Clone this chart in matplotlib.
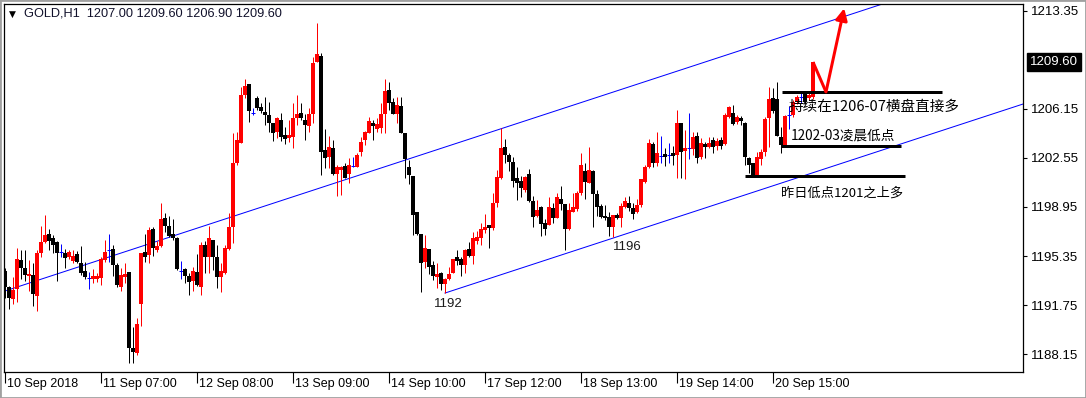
import matplotlib
matplotlib.use("Agg")
import matplotlib.pyplot as plt
from matplotlib.transforms import blended_transform_factory
from matplotlib.patches import Rectangle

# ---------------- data (GOLD H1) ----------------
opens = [1194.27, 1193.05, 1192.17, 1192.90, 1195.05, 1194.44, 1193.90, 1193.95, 1192.40, 1195.59,
         1196.38, 1196.96, 1196.65, 1196.40, 1195.62, 1195.55, 1195.30, 1194.98, 1195.50, 1194.81,
         1194.27, 1193.71, 1193.64, 1193.68, 1193.71, 1195.05, 1195.79, 1195.86, 1194.69, 1193.10,
         1193.82, 1194.15, 1188.56, 1188.20, 1191.82, 1195.62, 1195.43, 1197.33, 1195.79, 1196.08,
         1198.12, 1197.57, 1196.96, 1196.69, 1194.27, 1194.37, 1193.88, 1193.54, 1194.15, 1193.10,
         1196.18, 1195.26, 1196.52, 1195.30, 1193.82, 1194.08, 1195.84, 1197.45, 1202.16, 1203.67,
         1207.18, 1207.99, 1205.88, 1206.93, 1206.32, 1205.95, 1205.71, 1205.10, 1204.48, 1205.34,
         1204.24, 1204.04, 1204.11, 1205.47, 1205.83, 1205.34, 1204.90, 1205.78, 1209.62, 1210.04,
         1203.14, 1202.64, 1203.31, 1201.35, 1201.67, 1201.96, 1201.37, 1201.96, 1201.88, 1203.01,
         1203.87, 1204.41, 1205.10, 1204.66, 1204.73, 1205.78, 1207.54, 1206.69, 1205.78, 1206.37,
         1204.36, 1201.91, 1201.23, 1198.56, 1196.94, 1194.93, 1195.86, 1194.69, 1193.82, 1194.12,
         1193.30, 1193.66, 1194.12, 1195.25, 1195.10, 1194.69, 1195.86, 1195.35, 1196.45, 1196.65,
         1197.26, 1197.62, 1197.43, 1199.22, 1201.06, 1203.33, 1202.77, 1202.28, 1201.06, 1200.86,
         1200.20, 1201.37, 1199.41, 1198.29, 1198.98, 1197.75, 1197.62, 1198.88, 1198.17, 1199.52,
         1199.15, 1197.36, 1198.61, 1198.83, 1200.01, 1201.62, 1200.73, 1201.62, 1199.90, 1199.02,
         1198.29, 1198.24, 1197.50, 1198.36, 1198.12, 1198.97, 1199.27, 1198.88, 1198.56, 1199.12,
         1200.81, 1201.87, 1203.58, 1202.21, 1202.72, 1202.84, 1202.77, 1202.89, 1202.77, 1205.10,
         1203.04, 1203.28, 1203.23, 1204.16, 1202.63, 1203.58, 1203.38, 1203.87, 1203.43, 1203.87,
         1203.58, 1205.56, 1205.88, 1205.19, 1205.47, 1205.14, 1202.53, 1202.16, 1201.30, 1202.45,
         1203.01, 1205.47, 1206.93, 1206.86, 1204.11, 1203.50, 1205.71, 1205.71, 1206.69, 1207.05,
         1207.26, 1206.93, 1207.00]
highs = [1194.47, 1193.15, 1193.82, 1195.91, 1195.79, 1195.79, 1195.05, 1194.86, 1195.79, 1197.55,
         1198.36, 1197.31, 1196.89, 1196.45, 1196.23, 1195.84, 1195.79, 1195.79, 1195.74, 1196.10,
         1194.93, 1194.20, 1194.39, 1194.07, 1195.30, 1196.52, 1196.96, 1196.16, 1194.81, 1194.49,
         1194.81, 1194.20, 1190.15, 1190.77, 1195.60, 1196.96, 1197.50, 1197.50, 1196.45, 1199.22,
         1198.49, 1198.31, 1198.05, 1196.77, 1194.98, 1194.49, 1194.07, 1194.52, 1195.50, 1196.40,
         1196.45, 1197.55, 1196.55, 1196.16, 1194.83, 1196.16, 1198.49, 1204.41, 1204.48, 1207.79,
         1208.35, 1208.00, 1206.20, 1207.10, 1206.59, 1207.01, 1206.69, 1205.15, 1205.58, 1205.84,
         1204.85, 1205.34, 1206.57, 1207.18, 1206.57, 1205.78, 1206.20, 1209.99, 1212.49, 1210.28,
         1204.68, 1204.16, 1203.87, 1202.03, 1201.93, 1202.16, 1202.53, 1202.64, 1202.92, 1204.12,
         1204.55, 1205.58, 1205.34, 1205.47, 1206.61, 1208.33, 1208.15, 1206.98, 1207.01, 1207.01,
         1204.38, 1202.40, 1201.25, 1198.58, 1196.96, 1196.89, 1195.90, 1194.98, 1194.81, 1194.20,
         1193.76, 1194.56, 1195.12, 1195.79, 1195.30, 1195.84, 1196.40, 1197.13, 1197.18, 1197.75,
         1198.41, 1197.64, 1199.96, 1201.67, 1204.73, 1203.92, 1202.89, 1202.65, 1201.87, 1201.23,
         1201.23, 1201.72, 1199.76, 1199.46, 1199.03, 1198.05, 1199.66, 1199.27, 1199.96, 1200.49,
         1199.17, 1199.22, 1199.96, 1200.13, 1202.94, 1202.16, 1203.38, 1201.65, 1200.20, 1199.17,
         1199.10, 1198.61, 1198.38, 1198.49, 1199.27, 1199.66, 1199.76, 1199.22, 1199.52, 1201.00,
         1202.03, 1203.92, 1203.75, 1204.48, 1204.16, 1203.26, 1203.67, 1203.43, 1206.08, 1205.14,
         1204.63, 1205.88, 1204.48, 1204.48, 1204.00, 1203.75, 1204.12, 1204.12, 1203.99, 1204.12,
         1205.88, 1206.37, 1206.44, 1205.71, 1205.64, 1205.20, 1202.60, 1202.21, 1203.01, 1203.18,
         1205.58, 1207.74, 1207.67, 1208.15, 1204.85, 1205.71, 1206.37, 1206.81, 1207.18, 1207.35,
         1207.47, 1207.40, 1209.60]
lows = [1192.26, 1191.43, 1191.80, 1191.99, 1193.66, 1193.51, 1192.77, 1191.67, 1191.33, 1195.30,
        1196.28, 1195.79, 1195.55, 1193.54, 1195.26, 1194.49, 1195.10, 1194.81, 1194.81, 1193.95,
        1193.64, 1192.90, 1193.39, 1193.45, 1193.22, 1194.93, 1194.93, 1193.88, 1193.05, 1192.77,
        1193.39, 1187.51, 1187.51, 1188.07, 1190.20, 1194.93, 1194.81, 1195.35, 1195.67, 1196.03,
        1197.13, 1196.77, 1196.52, 1194.32, 1193.66, 1193.34, 1192.48, 1192.80, 1193.15, 1192.48,
        1194.12, 1194.12, 1194.32, 1192.97, 1192.73, 1194.05, 1195.79, 1196.28, 1202.03, 1203.67,
        1206.93, 1205.22, 1205.71, 1206.08, 1205.85, 1204.97, 1204.48, 1203.82, 1204.04, 1203.82,
        1203.58, 1203.75, 1203.26, 1204.97, 1205.34, 1203.87, 1204.48, 1205.10, 1209.60, 1201.30,
        1201.79, 1201.79, 1201.30, 1199.73, 1199.85, 1201.05, 1200.69, 1201.88, 1201.86, 1202.70,
        1203.50, 1204.38, 1203.87, 1204.48, 1204.41, 1204.41, 1206.08, 1205.78, 1205.10, 1204.38,
        1201.06, 1200.61, 1196.89, 1196.90, 1192.73, 1194.49, 1194.02, 1193.58, 1192.97, 1192.85,
        1192.61, 1193.61, 1194.08, 1194.69, 1193.88, 1194.12, 1195.26, 1194.76, 1196.23, 1196.16,
        1197.02, 1195.91, 1197.26, 1198.92, 1201.00, 1202.16, 1201.62, 1200.44, 1199.50, 1199.70,
        1200.08, 1199.33, 1197.50, 1198.24, 1196.82, 1196.89, 1197.60, 1197.75, 1198.12, 1198.73,
        1195.79, 1197.23, 1198.61, 1198.66, 1199.83, 1199.52, 1200.69, 1197.50, 1198.29, 1198.12,
        1198.00, 1196.82, 1196.77, 1198.07, 1197.50, 1198.90, 1198.69, 1198.05, 1198.49, 1198.98,
        1200.69, 1201.79, 1201.91, 1201.96, 1202.16, 1201.96, 1202.21, 1202.03, 1201.06, 1201.06,
        1200.99, 1202.45, 1202.77, 1202.21, 1202.45, 1202.58, 1203.26, 1202.94, 1203.14, 1203.18,
        1203.50, 1205.51, 1204.97, 1205.05, 1204.97, 1202.03, 1201.42, 1201.23, 1201.23, 1202.03,
        1202.70, 1203.38, 1205.84, 1204.16, 1202.94, 1203.46, 1204.66, 1205.58, 1206.51, 1206.57,
        1206.55, 1206.80, 1206.90]
closes = [1193.07, 1192.24, 1192.85, 1195.13, 1194.49, 1193.95, 1194.00, 1192.53, 1195.59, 1196.38,
          1196.87, 1196.47, 1196.18, 1195.55, 1195.62, 1195.23, 1195.67, 1195.35, 1194.93, 1194.12,
          1193.82, 1193.71, 1193.88, 1193.88, 1195.13, 1195.67, 1195.79, 1194.69, 1193.22, 1193.95,
          1194.02, 1188.56, 1188.31, 1190.35, 1195.55, 1195.30, 1197.26, 1195.91, 1196.08, 1198.07,
          1197.57, 1196.84, 1196.69, 1194.37, 1194.27, 1193.90, 1193.42, 1194.27, 1193.22, 1196.16,
          1195.30, 1196.65, 1195.30, 1193.82, 1194.27, 1195.91, 1197.45, 1202.16, 1203.87, 1207.18,
          1207.84, 1206.02, 1205.88, 1206.20, 1206.02, 1205.71, 1205.10, 1204.41, 1205.51, 1204.11,
          1203.92, 1204.24, 1205.51, 1205.78, 1205.47, 1204.97, 1205.78, 1209.55, 1210.19, 1203.01,
          1202.57, 1203.38, 1201.37, 1201.91, 1201.91, 1201.10, 1202.03, 1201.96, 1202.77, 1203.72,
          1204.48, 1205.27, 1204.90, 1205.03, 1205.78, 1207.47, 1206.61, 1205.78, 1206.44, 1204.41,
          1202.45, 1201.30, 1198.36, 1196.96, 1194.81, 1195.91, 1194.52, 1193.88, 1194.02, 1193.27,
          1193.64, 1194.00, 1195.10, 1195.00, 1194.69, 1195.79, 1195.35, 1196.69, 1196.77, 1197.31,
          1197.50, 1197.43, 1199.22, 1201.18, 1203.31, 1202.77, 1202.28, 1200.86, 1200.73, 1200.32,
          1201.18, 1199.41, 1198.24, 1198.73, 1197.70, 1197.31, 1198.98, 1198.12, 1199.66, 1199.15,
          1197.31, 1198.73, 1198.98, 1200.01, 1202.03, 1200.81, 1201.67, 1199.90, 1198.95, 1198.24,
          1198.12, 1197.50, 1198.36, 1198.12, 1199.02, 1199.39, 1198.86, 1198.42, 1199.12, 1200.99,
          1201.87, 1203.63, 1202.16, 1202.89, 1202.72, 1202.60, 1202.77, 1202.70, 1205.14, 1203.01,
          1203.28, 1203.28, 1204.11, 1202.53, 1203.67, 1203.33, 1203.67, 1203.38, 1203.80, 1203.43,
          1205.71, 1206.32, 1205.05, 1205.54, 1205.29, 1202.60, 1202.03, 1201.30, 1202.60, 1203.01,
          1205.39, 1206.86, 1206.02, 1204.16, 1203.50, 1205.63, 1205.71, 1206.69, 1207.05, 1207.05,
          1206.69, 1207.18, 1209.60]

date_labels = ["10 Sep 2018", "11 Sep 07:00", "12 Sep 08:00", "13 Sep 09:00", "14 Sep 10:00",
               "17 Sep 12:00", "18 Sep 13:00", "19 Sep 14:00", "20 Sep 15:00"]
bars_per_label = 24
price_ticks = [1213.35, 1206.15, 1202.55, 1198.95, 1195.35, 1191.75, 1188.15]
last_price = 1209.60
header_text = "GOLD,H1  1207.00 1209.60 1206.90 1209.60"

# channel lines: (bar, price) anchors
upper_channel = [(0, 1192.78), (200, 1212.00)]
lower_channel = [(110, 1192.63), (250, 1206.08)]
# black horizontal levels: (price, bar_start, bar_end)
levels = [(1207.40, 194.2, 234.2), (1203.43, 194.0, 224.0), (1201.19, 185.0, 225.0)]
notes = [(196.0, 1206.30, "持续在1206-07横盘直接多", 10.5),
         (196.5, 1204.17, "1202-03凌晨低点", 9.8),
         (194.0, 1199.94, "昨日低点1201之上多", 9.5)]
low_labels = [(110.75, 1191.82, "1192"), (155.5, 1196.01, "1196")]
arrow_path = [(202.0, 1209.60), (205.25, 1207.40), (209.8, 1213.55)]

# ---------------- figure ----------------
W, H = 1086, 398
fig = plt.figure(figsize=(W / 100, H / 100), dpi=100)
fig.patch.set_facecolor("white")
L, R, T, B = 4, 1023, 4, 372
ax = fig.add_axes([L / W, 1 - B / H, (R - L) / W, (B - T) / H])
ax.set_xlim(-0.25, 254.5)
ax.set_ylim(1186.83, 1213.86)
for s in ax.spines.values():
    s.set_linewidth(0.9)
    s.set_color("black")

px = 0.72  # one pixel in points
RED, BLACK, BLUE = "#ff0000", "#000000", "#0000ff"
for i, (o, h, l, c) in enumerate(zip(opens, highs, lows, closes)):
    if c > o:
        col = RED
    elif c < o:
        col = BLACK
    else:
        col = BLUE
    ax.vlines(i, l, h, colors=col, lw=px, zorder=3)
    if c == o:
        ax.hlines(o, i - 0.45, i + 0.45, colors=col, lw=px, zorder=3)
    else:
        bot = min(o, c)
        hgt = max(abs(c - o), 0.075)
        ax.bar(i, hgt, bottom=bot, width=0.78, color=col, linewidth=0, zorder=3)

# channel
(x0, y0), (x1, y1) = upper_channel
sl = (y1 - y0) / (x1 - x0)
ax.plot([-5, 260], [y0 + sl * (-5 - x0), y0 + sl * (260 - x0)], color=BLUE, lw=px, zorder=2)
(x0, y0), (x1, y1) = lower_channel
sl = (y1 - y0) / (x1 - x0)
ax.plot([x0, 260], [y0, y0 + sl * (260 - x0)], color=BLUE, lw=px, zorder=2)

# levels
for p, a, b in levels:
    ax.hlines(p, a, b, colors="black", lw=3 * px, zorder=4)

cjk = ["Noto Sans CJK SC", "DejaVu Sans"]
for x, y, t, fs in notes:
    ax.text(x, y, t, fontsize=fs, family=cjk, ha="left", va="center", color="black", zorder=5)
for x, y, t in low_labels:
    ax.text(x, y, t, fontsize=9.5, family="Liberation Sans", ha="center", va="center", color="#1a1a1a")

# red arrow
(ax0, ay0), (ax1, ay1), (ax2, ay2) = arrow_path
ax.plot([ax0, ax1], [ay0, ay1], color=RED, lw=3 * px, solid_capstyle="butt", zorder=6)
ax.annotate("", xy=(ax2, ay2), xytext=(ax1, ay1),
            arrowprops=dict(arrowstyle="-|>,head_length=0.7,head_width=0.35", color=RED, lw=3 * px,
                            shrinkA=0, shrinkB=0), zorder=6, annotation_clip=False)

# axes ticks
ax.yaxis.tick_right()
ax.set_yticks(price_ticks)
ax.set_yticklabels([f"{p:.2f}" for p in price_ticks])
ax.tick_params(axis="y", direction="out", length=3, width=0.8, pad=3, labelsize=9.5)
for lab in ax.get_yticklabels():
    lab.set_family("Liberation Sans")
tick_pos = [k * bars_per_label for k in range(len(date_labels))]
ax.set_xticks(tick_pos)
ax.set_xticklabels([])
ax.tick_params(axis="x", direction="out", length=8, width=0.8)
xt = ax.get_xaxis_transform()
for k, t in zip(tick_pos, date_labels):
    ax.text(k + 0.4, -(384 - B) / (B - T), t, transform=xt, fontsize=9, family="Liberation Sans",
            ha="left", va="center", color="black")

# current price box
bt = blended_transform_factory(ax.transAxes, ax.transData)
ax.text(1 + 7 / (R - L), last_price, f"{last_price:.2f}", transform=bt, fontsize=9.5,
        family="Liberation Sans", color="white", ha="left", va="center",
        bbox=dict(boxstyle="square,pad=0.2", facecolor="black", edgecolor="black"))

# header
fig.text(9 / W, 1 - 14 / H, "▼", fontsize=6.5, ha="left", va="center", color="black")
fig.text(24 / W, 1 - 14 / H, header_text, fontsize=9.2, family="Liberation Sans",
         ha="left", va="center", color="#10102a")

# window border
fig.add_artist(Rectangle((0, 0), 1, 1, transform=fig.transFigure, fill=False,
                         edgecolor="#a0a0a0", lw=2))

fig.savefig("out.png", dpi=100)
